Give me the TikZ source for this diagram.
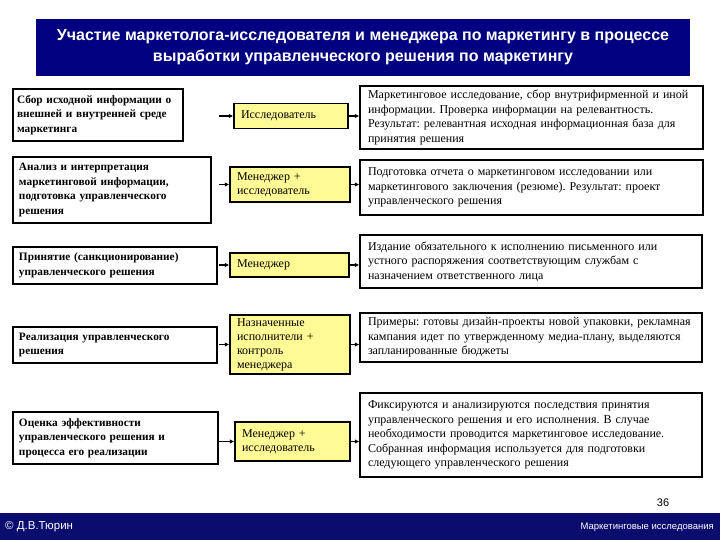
\documentclass[tikz,border=0pt]{standalone}
\usepackage{fontspec}
\setmainfont{Liberation Serif}
\setsansfont{Liberation Sans}
\usetikzlibrary{arrows.meta}
\definecolor{navy}{RGB}{0,0,128}
\definecolor{footblue}{RGB}{10,12,110}
\definecolor{yel}{RGB}{255,250,150}
\frenchspacing
\begin{document}
\begin{tikzpicture}[x=1pt,y=-1pt,
  lbox/.style={draw=black,line width=1.3pt,fill=white,rectangle,inner xsep=6pt,inner ysep=1pt,align=left,
    font=\fontsize{11.3}{14.5}\selectfont\bfseries},
  ybox/.style={draw=black,line width=1.3pt,fill=yel,rectangle,inner xsep=7pt,inner ysep=1pt,align=left,
    font=\fontsize{12}{14}\selectfont},
  rbox/.style={draw=black,line width=1.3pt,fill=white,rectangle,inner xsep=8pt,inner ysep=1pt,align=left,
    font=\fontsize{12}{14.5}\selectfont},
  arr/.style={line width=1.2pt,-{Latex[length=4.5pt,width=4.5pt]}}]
\useasboundingbox (0,0) rectangle (720,540);
% title
\node[fill=navy,minimum width=654pt,minimum height=57pt,inner sep=0pt,align=center,text=white,
  font=\fontsize{16}{21}\selectfont\sffamily\bfseries] (title) at (363,47.5)
  {Участие маркетолога-исследователя и менеджера по маркетингу в процессе\\выработки управленческого решения по маркетингу};
% footer
\node[fill=footblue,minimum width=720pt,minimum height=27pt,inner sep=0pt] (foot) at (360,526.5) {};
\node[anchor=west,text=white,font=\fontsize{11.5}{12}\selectfont\sffamily,inner sep=0pt] (author) at (5,527) {© Д.В.Тюрин};
\node[anchor=east,text=white,font=\fontsize{9.5}{12}\selectfont\sffamily,inner sep=0pt] (course) at (714,527) {Маркетинговые исследования};
\node[font=\fontsize{11}{12}\selectfont\sffamily,inner sep=0pt] (page) at (663,503) {36};
% left boxes
\node[lbox,inner xsep=4pt,minimum height=52pt,text width=162pt] (L1) at (98,115)
  {Сбор исходной информации о\\внешней и внутренней среде\\маркетинга};
\node[lbox,minimum height=66pt,text width=186pt] (L2) at (112,190)
  {Анализ и интерпретация\\маркетинговой информации,\\подготовка управленческого\\решения};
\node[lbox,minimum height=37pt,text width=192pt] (L3) at (115,265.5)
  {Принятие (санкционирование)\\управленческого решения};
\node[lbox,minimum height=36pt,text width=192pt] (L4) at (115,345)
  {Реализация управленческого\\решения};
\node[lbox,minimum height=52pt,text width=193pt] (L5) at (115.5,438)
  {Оценка эффективности\\управленческого решения и\\процесса его реализации};
% yellow boxes
\node[ybox,minimum height=25pt,text width=100pt] (Y1) at (291,116) {Исследователь};
\node[ybox,minimum height=35pt,text width=106pt] (Y2) at (290,184.5) {Менеджер +\\исследователь};
\node[ybox,minimum height=24pt,text width=105pt] (Y3) at (289.5,265) {Менеджер};
\node[ybox,minimum height=59pt,text width=106pt] (Y4) at (290,344.5) {Назначенные\\исполнители +\\контроль\\менеджера};
\node[ybox,minimum height=39pt,text width=101pt] (Y5) at (292.5,441.5) {Менеджер +\\исследователь};
% right boxes
\node[rbox,minimum height=63pt,text width=327pt] (R1) at (531.5,117.5)
  {Маркетинговое исследование, сбор внутрифирменной и иной\\информации. Проверка информации на релевантность.\\Результат: релевантная исходная информационная база для\\принятия решения};
\node[rbox,minimum height=55pt,text width=327pt] (R2) at (531.5,187.5)
  {Подготовка отчета о маркетинговом исследовании или\\маркетингового заключения (резюме). Результат: проект\\управленческого решения};
\node[rbox,minimum height=53pt,text width=326pt] (R3) at (531,261.5)
  {Издание обязательного к исполнению письменного или\\устного распоряжения соответствующим службам с\\назначением ответственного лица};
\node[rbox,minimum height=49pt,text width=326pt] (R4) at (531,337.5)
  {Примеры: готовы дизайн-проекты новой упаковки, рекламная\\кампания идет по утвержденному медиа-плану, выделяются\\запланированные бюджеты};
\node[rbox,minimum height=84pt,text width=326pt] (R5) at (531,435)
  {Фиксируются и анализируются последствия принятия\\управленческого решения и его исполнения. В случае\\необходимости проводится маркетинговое исследование.\\Собранная информация используется для подготовки\\следующего управленческого решения};
% arrows
\coordinate (s) at (219,0);
\foreach \i in {1,...,5}{
  \draw[arr] (Y\i.west -| s) -- (Y\i.west);
  \draw[arr] (Y\i.east) -- (Y\i.east -| R\i.west);
}
\end{tikzpicture}
\end{document}
